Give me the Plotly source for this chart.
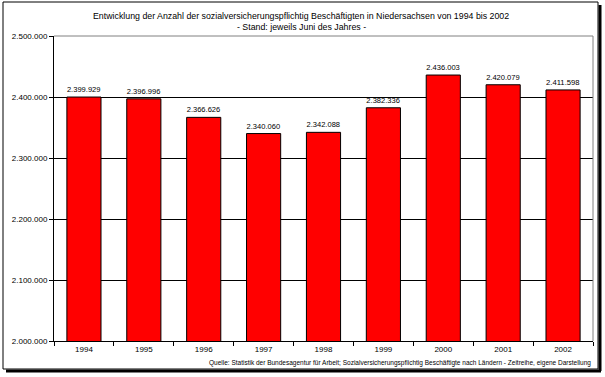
import plotly.graph_objects as go

years = ["1994", "1995", "1996", "1997", "1998", "1999", "2000", "2001", "2002"]
employees = [2399929, 2396996, 2366626, 2340060, 2342088, 2382336, 2436003, 2420079, 2411598]
y_ticks = [2000000, 2100000, 2200000, 2300000, 2400000, 2500000]

def de(n):
    return f"{n:,}".replace(",", ".")

labels = [de(v) for v in employees]
y_ticktext = [de(v) for v in y_ticks]

W, H = 605, 377
L, R, T, B = 54, 593, 36, 341
pw, ph = R - L, B - T

def px(x):
    return (x - L) / pw

def py(y):
    return (B - y) / ph

fig = go.Figure(go.Bar(
    x=years, y=employees,
    marker=dict(color="#FF0000", line=dict(color="black", width=1)),
    text=labels, textposition="outside",
    textfont=dict(size=8, color="black"),
    cliponaxis=False,
))

font = "Arial, Liberation Sans, sans-serif"
fig.update_layout(
    width=W, height=H,
    margin=dict(l=L, r=W - R, t=T, b=H - B),
    paper_bgcolor="white", plot_bgcolor="white",
    font=dict(family=font, size=8, color="black"),
    bargap=0.43,
    showlegend=False,
    xaxis=dict(
        type="category", showline=True, linecolor="black", linewidth=1,
        ticks="outside", tickson="boundaries", ticklen=4, tickcolor="black",
        showgrid=False, tickfont=dict(size=8),
    ),
    yaxis=dict(
        range=[2000000, 2500000], tickvals=y_ticks, ticktext=y_ticktext,
        showline=True, linecolor="black", linewidth=1,
        ticks="outside", ticklen=4, tickcolor="black",
        showgrid=True, gridcolor="black", gridwidth=1,
        zeroline=False, tickfont=dict(size=8),
    ),
    shapes=[
        dict(type="line", xref="paper", yref="paper", x0=0, x1=1, y0=1, y1=1,
             line=dict(color="#808080", width=1)),
        dict(type="line", xref="paper", yref="paper", x0=1, x1=1, y0=0, y1=1,
             line=dict(color="#808080", width=1)),
        dict(type="rect", xref="paper", yref="paper",
             x0=px(3), x1=px(598), y0=py(369), y1=py(2),
             line=dict(color="black", width=1)),
        dict(type="line", xref="paper", yref="paper",
             x0=px(600), x1=px(600), y0=py(371), y1=py(5),
             line=dict(color="black", width=3)),
        dict(type="line", xref="paper", yref="paper",
             x0=px(6), x1=px(601), y0=py(371), y1=py(371),
             line=dict(color="black", width=3)),
    ],
    annotations=[
        dict(text="Entwicklung der Anzahl der sozialversicherungspflichtig Beschäftigten in Niedersachsen von 1994 bis 2002",
             xref="paper", yref="paper", x=px(301), y=py(16), showarrow=False,
             xanchor="center", yanchor="middle", font=dict(size=8.8)),
        dict(text="- Stand: jeweils Juni des Jahres -",
             xref="paper", yref="paper", x=px(301), y=py(27), showarrow=False,
             xanchor="center", yanchor="middle", font=dict(size=8.8)),
        dict(text="Quelle: Statistik der Bundesagentur für Arbeit; Sozialversicherungspflichtig Beschäftigte nach Ländern - Zeitreihe, eigene Darstellung",
             xref="paper", yref="paper", x=px(593), y=py(363), showarrow=False,
             xanchor="right", yanchor="middle", font=dict(size=6.5)),
    ],
)

fig.write_html(
    "out.html",
    config={"displayModeBar": False},
    post_script="document.body.style.margin='0';document.body.style.padding='0';document.body.style.overflow='hidden';",
)
